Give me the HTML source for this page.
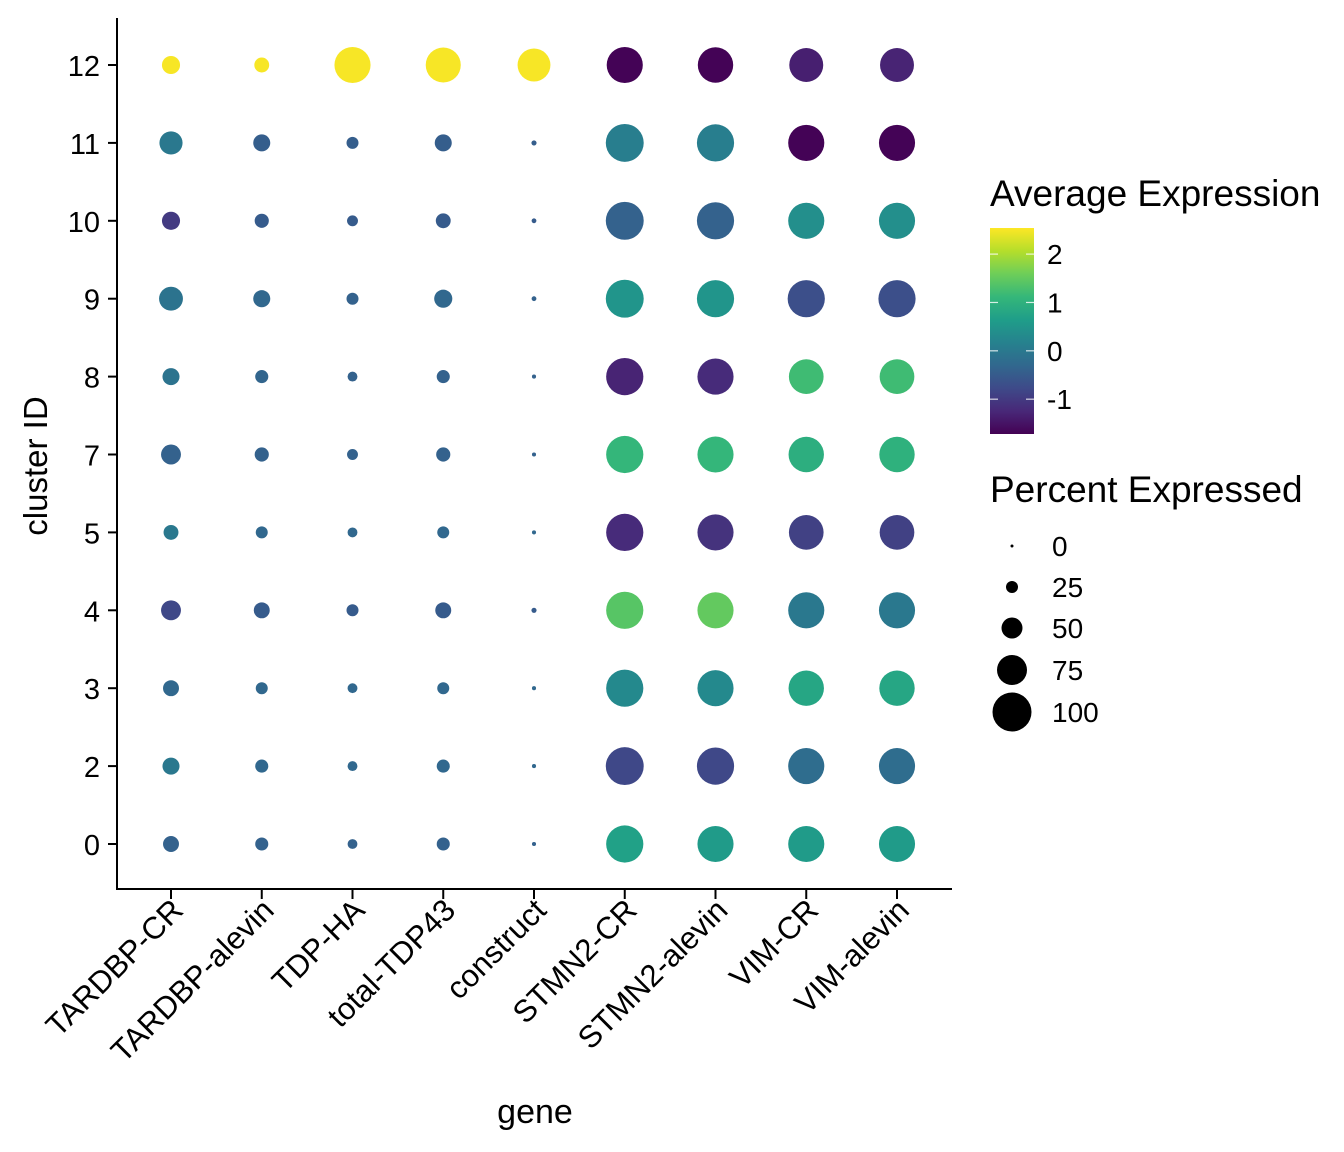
<!DOCTYPE html>
<html><head><meta charset="utf-8"><style>
html,body{margin:0;padding:0;background:#fff;}
svg{display:block;font-family:"Liberation Sans",Arial,sans-serif;}
</style></head><body>
<svg id="chart" width="1344" height="1152" viewBox="0 0 1344 1152">
<g id="dots"></g>
<g id="axes"></g>
<g id="legend"></g>
</svg>
<script>
const genes = ["TARDBP-CR","TARDBP-alevin","TDP-HA","total-TDP43","construct","STMN2-CR","STMN2-alevin","VIM-CR","VIM-alevin"];
const clusters = ["12","11","10","9","8","7","5","4","3","2","0"];
// percent expressed per cluster (rows) x gene (cols)
const pctExpr = [
 [42,33,92,89,83,92,90,86,86],
 [56,39,25,39,6,97,95,92,92],
 [42,31,22,33,5,97,95,92,92],
 [58,39,25,42,5,97,95,95,95],
 [39,28,19,28,3,95,92,88,88],
 [47,31,22,31,3,95,92,90,90],
 [33,25,19,25,3,95,92,88,88],
 [47,36,25,36,6,95,92,92,92],
 [36,25,19,25,3,95,92,90,90],
 [39,28,19,28,3,97,95,92,92],
 [36,28,19,28,3,95,92,92,92]
];
// average expression per cluster x gene
const avgExpr = [
 [2.5,2.5,2.5,2.5,2.5,-1.7,-1.7,-1.35,-1.3],
 [0.0,-0.45,-0.45,-0.45,-0.45,0.1,0.1,-1.7,-1.7],
 [-1.0,-0.5,-0.5,-0.5,-0.5,-0.4,-0.4,0.4,0.4],
 [-0.1,-0.3,-0.4,-0.3,-0.4,0.5,0.5,-0.7,-0.7],
 [-0.1,-0.35,-0.4,-0.4,-0.4,-1.3,-1.2,1.2,1.2],
 [-0.4,-0.4,-0.4,-0.4,-0.4,1.1,1.1,0.95,1.0],
 [0.0,-0.3,-0.3,-0.3,-0.3,-1.2,-1.1,-0.9,-0.9],
 [-0.8,-0.5,-0.5,-0.5,-0.5,1.4,1.5,0.0,0.0],
 [-0.3,-0.3,-0.3,-0.3,-0.3,0.3,0.3,0.8,0.8],
 [0.0,-0.3,-0.3,-0.3,-0.3,-0.8,-0.8,-0.2,-0.2],
 [-0.4,-0.4,-0.4,-0.4,-0.4,0.7,0.6,0.6,0.6]
];
const colorTicks = [2,1,0,-1];
const sizeTicks = [0,25,50,75,100];

const NS="http://www.w3.org/2000/svg";
const vir=["#440154","#482878","#3e4a89","#31688e","#26828e","#1f9e89","#35b779","#6ece58","#b5de2b","#fde725"];
const cMin=-1.72,cMax=2.54;
function hex(h){return [parseInt(h.substr(1,2),16),parseInt(h.substr(3,2),16),parseInt(h.substr(5,2),16)];}
function color(v){let t=(v-cMin)/(cMax-cMin);t=Math.max(0,Math.min(1,t));const p=t*(vir.length-1);const i=Math.min(Math.floor(p),vir.length-2);const f=p-i;const a=hex(vir[i]),b=hex(vir[i+1]);return "rgb("+a.map((x,k)=>Math.round(x+(b[k]-x)*f)).join(",")+")";}
function xPos(i){return 171+i*90.75;}
function yPos(i){return 65+i*77.9;}
function rad(p){return 1.5+p*0.18;}
function mk(tag,attrs,parent){const e=document.createElementNS(NS,tag);for(const k in attrs)e.setAttribute(k,attrs[k]);parent.appendChild(e);return e;}

const dots=document.getElementById('dots');
clusters.forEach((c,ri)=>{genes.forEach((g,ci)=>{
 const e=mk('circle',{cx:xPos(ci),cy:yPos(ri),r:rad(pctExpr[ri][ci]),fill:color(avgExpr[ri][ci])},dots);
 
 
});});

const ax=document.getElementById('axes');
let l=mk('line',{x1:117,y1:18,x2:117,y2:890,stroke:'#000','stroke-width':2},ax);


l=mk('line',{x1:116,y1:889,x2:952,y2:889,stroke:'#000','stroke-width':2},ax);


clusters.forEach((c,i)=>{
 mk('line',{x1:108,y1:yPos(i),x2:117,y2:yPos(i),stroke:'#000','stroke-width':2},ax);
 const t=mk('text',{x:100,y:yPos(i)+11,'text-anchor':'end','font-size':29,fill:'#000'},ax);
 t.textContent=c;
 
 
});
genes.forEach((g,i)=>{
 const x=xPos(i);
 mk('line',{x1:x,y1:890,x2:x,y2:899,stroke:'#000','stroke-width':2},ax);
 const t=mk('text',{x:x+14,y:912,'text-anchor':'end','font-size':31,fill:'#000',transform:'rotate(-45 '+(x+14)+' 912)'},ax);
 t.textContent=g;
 
 
});
let t=mk('text',{x:535,y:1123,'text-anchor':'middle','font-size':34,fill:'#000'},ax);
t.textContent='gene';


t=mk('text',{x:47,y:466,'text-anchor':'middle','font-size':33,fill:'#000',transform:'rotate(-90 47 466)'},ax);
t.textContent='cluster ID';



const lg=document.getElementById('legend');
t=mk('text',{x:990,y:206,'font-size':37,fill:'#000'},lg);
t.textContent='Average Expression';


const defs=mk('defs',{},lg);
const grad=mk('linearGradient',{id:'vg',x1:0,y1:1,x2:0,y2:0},defs);
vir.forEach((c,i)=>mk('stop',{offset:(i/(vir.length-1)),'stop-color':c},grad));
const cbTop=228,cbBot=434;
function cbY(v){return cbBot-(v-cMin)/(cMax-cMin)*(cbBot-cbTop);}
let r=mk('rect',{x:990,y:cbTop,width:44,height:cbBot-cbTop,fill:'url(#vg)'},lg);


colorTicks.forEach(v=>{
 mk('line',{x1:990,y1:cbY(v),x2:998,y2:cbY(v),stroke:'#fff','stroke-width':1.2,opacity:0.8},lg);
 mk('line',{x1:1026,y1:cbY(v),x2:1034,y2:cbY(v),stroke:'#fff','stroke-width':1.2,opacity:0.8},lg);
 const tt=mk('text',{x:1047,y:cbY(v)+10,'font-size':28,fill:'#000'},lg);
 tt.textContent=String(v);
 
 
});
t=mk('text',{x:990,y:502,'font-size':37,fill:'#000'},lg);
t.textContent='Percent Expressed';


const sizeY=[546,587,628,670,712];
sizeTicks.forEach((v,i)=>{
 const c=mk('circle',{cx:1012,cy:sizeY[i],r:Math.max(1.5,rad(v)),fill:'#000'},lg);
 
 
 const tt=mk('text',{x:1052,y:sizeY[i]+10,'font-size':28,fill:'#000'},lg);
 tt.textContent=String(v);
 
 
});
</script>
</body></html>
